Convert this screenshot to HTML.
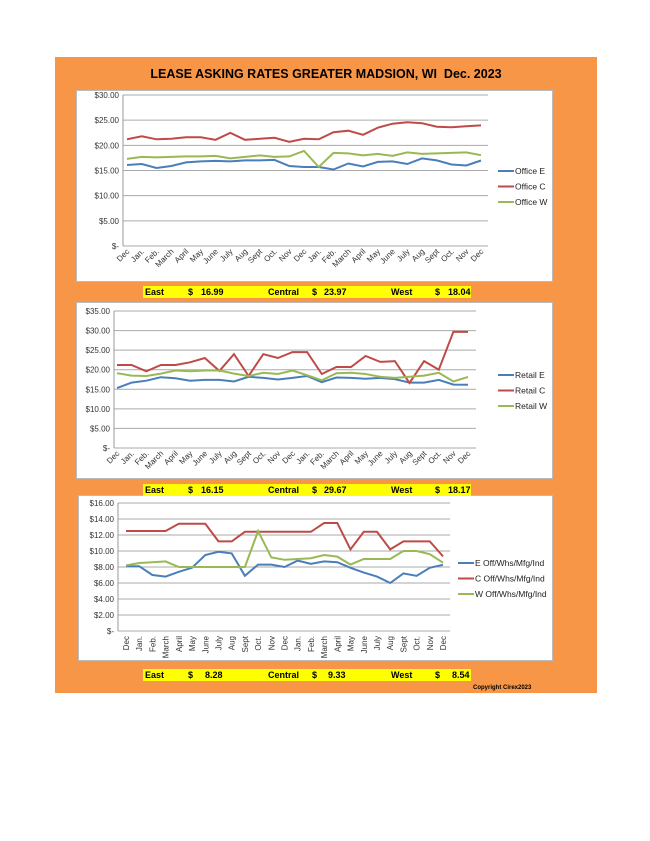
<!DOCTYPE html>
<html><head><meta charset="utf-8"><style>
body{margin:0;background:#fff;width:650px;height:841px;position:relative;font-family:"Liberation Sans",sans-serif;overflow:hidden}
#bg{position:absolute;left:55px;top:57px;width:542px;height:636px;background:#f79646}
.title{position:absolute;left:55px;width:542px;top:67px;text-align:center;font-weight:bold;font-size:12.5px}
.box{position:absolute;background:#fff;border:1px solid #bbb;box-sizing:border-box}
.ybar{position:absolute;left:143px;width:328px;height:12px;background:#ffff00;font-weight:bold;font-size:9px;line-height:12px}
.ybar span{position:absolute;top:0}
svg text{font-family:"Liberation Sans",sans-serif}
</style></head><body>
<div id="bg"></div>
<div class="title">LEASE ASKING RATES GREATER MADSION, WI&nbsp; Dec. 2023</div>
<div class="box" style="left:76px;top:90px;width:477px;height:192px"></div>
<div class="box" style="left:76px;top:302px;width:477px;height:177px"></div>
<div class="box" style="left:78px;top:495px;width:475px;height:166px"></div>
<div class="ybar" style="top:286px"><span style="left:2px">East</span><span style="left:45px">$</span><span style="left:58px">16.99</span><span style="left:125px">Central</span><span style="left:169px">$</span><span style="left:181px">23.97</span><span style="left:248px">West</span><span style="left:292px">$</span><span style="left:305px">18.04</span></div>
<div class="ybar" style="top:484px"><span style="left:2px">East</span><span style="left:45px">$</span><span style="left:58px">16.15</span><span style="left:125px">Central</span><span style="left:169px">$</span><span style="left:181px">29.67</span><span style="left:248px">West</span><span style="left:292px">$</span><span style="left:305px">18.17</span></div>
<div class="ybar" style="top:669px"><span style="left:2px">East</span><span style="left:45px">$</span><span style="left:62px">8.28</span><span style="left:125px">Central</span><span style="left:169px">$</span><span style="left:185px">9.33</span><span style="left:248px">West</span><span style="left:292px">$</span><span style="left:309px">8.54</span></div>
<div style="position:absolute;left:473px;top:685px;font-size:6px;font-weight:bold">Copyright Cirex2023</div>
<svg id="svg" width="650" height="841" style="position:absolute;left:0;top:0"></svg>
<script>
const months=["Dec","Jan.","Feb.","March","April","May","June","July","Aug","Sept","Oct.","Nov","Dec","Jan.","Feb.","March","April","May","June","July","Aug","Sept","Oct.","Nov","Dec"];
const officeE=[16.1,16.3,15.5,15.9,16.6,16.8,16.9,16.8,17.0,17.0,17.1,15.9,15.7,15.7,15.2,16.4,15.8,16.7,16.8,16.3,17.4,17.0,16.2,16.0,16.99];
const officeC=[21.2,21.8,21.2,21.3,21.6,21.6,21.1,22.5,21.1,21.3,21.5,20.7,21.3,21.2,22.6,22.9,22.1,23.5,24.3,24.6,24.4,23.7,23.6,23.8,23.97];
const officeW=[17.3,17.7,17.6,17.7,17.8,17.8,17.9,17.4,17.7,18.0,17.7,17.8,18.9,15.7,18.5,18.4,18.0,18.3,17.9,18.6,18.3,18.4,18.5,18.6,18.04];
const retailE=[15.3,16.7,17.2,18.1,17.8,17.2,17.4,17.4,17.0,18.2,17.9,17.5,17.9,18.4,16.8,18.0,17.9,17.7,17.9,17.6,16.7,16.7,17.4,16.2,16.15];
const retailC=[21.2,21.2,19.6,21.2,21.2,21.9,23.0,19.7,24.0,18.4,24.0,23.0,24.5,24.5,18.9,20.7,20.7,23.5,22.0,22.2,16.6,22.2,20.0,29.7,29.67];
const retailW=[19.1,18.5,18.4,19.0,19.8,19.6,19.8,19.8,19.0,18.4,19.2,18.9,19.8,18.6,17.3,19.1,19.2,18.9,18.2,17.9,18.2,18.5,19.2,17.0,18.17];
const indE=[8.1,8.1,7.0,6.8,7.4,7.9,9.5,9.9,9.7,6.9,8.3,8.3,8.0,8.8,8.4,8.7,8.6,7.9,7.3,6.8,6.0,7.2,6.9,7.9,8.28];
const indC=[12.5,12.5,12.5,12.5,13.4,13.4,13.4,11.2,11.2,12.4,12.4,12.4,12.4,12.4,12.4,13.5,13.5,10.2,12.4,12.4,10.2,11.2,11.2,11.2,9.33];
const indW=[8.2,8.5,8.6,8.7,8.0,8.0,8.0,8.0,8.0,8.0,12.5,9.2,8.9,9.0,9.1,9.5,9.3,8.3,9.0,9.0,9.0,10.0,10.0,9.6,8.54];
const officeTicks=[0,5,10,15,20,25,30];
const retailTicks=[0,5,10,15,20,25,30,35];
const indTicks=[0,2,4,6,8,10,12,14,16];
const colors=["#4a7ebb","#be4b48","#98b954"];
const NS="http://www.w3.org/2000/svg";
const svg=document.getElementById('svg');
function mk(tag,attrs,parent){const e=document.createElementNS(NS,tag);for(const k in attrs)e.setAttribute(k,attrs[k]);(parent||svg).appendChild(e);return e;}
function chart(o){
  const g=mk('g',{});
  
  
  const max=o.ticks[o.ticks.length-1];
  const y=v=>o.y1-(v/max)*(o.y1-o.y0);
  const x=i=>o.px0+i*(o.px1-o.px0)/(months.length-1);
  o.ticks.forEach(t=>{
    const gl=mk('line',{x1:o.ax0,x2:o.ax1,y1:y(t),y2:y(t),stroke:'#aaa','stroke-width':1},g);
    
    
    const lb=mk('text',{x:o.ax0-4,y:y(t)+3,'font-size':8,'text-anchor':'end',fill:'#333'},g);
    lb.textContent=t===0?'$-':'$'+t.toFixed(2);
    
    
  });
  mk('line',{x1:o.ax0,x2:o.ax0,y1:o.y0,y2:o.y1,stroke:'#999'},g);
  months.forEach((m,i)=>{
    const lx=x(i);
    const t=mk('text',{'font-size':8,fill:'#333','text-anchor':'end'},g);
    t.textContent=m;
    if(o.vertical){t.setAttribute('transform',`translate(${lx+3},${o.y1+5}) rotate(-90)`);}
    else{t.setAttribute('transform',`translate(${lx+3},${o.y1+6}) rotate(-45)`);}
    
    
  });
  o.series.forEach((s,k)=>{
    const p=mk('polyline',{points:s.map((v,i)=>x(i).toFixed(1)+','+y(v).toFixed(1)).join(' '),fill:'none',stroke:colors[k],'stroke-width':2},g);
    
    
    const ly=o.legY+k*15.5;
    const ll=mk('line',{x1:o.legX,x2:o.legX+16,y1:ly,y2:ly,stroke:colors[k],'stroke-width':2},g);
    
    
    const lt=mk('text',{x:o.legX+17,y:ly+3,'font-size':8.5,fill:'#222'},g);
    lt.textContent=o.labels[k];
    
    
  });
}
chart({name:'office-chart',ticks:officeTicks,y0:95,y1:246,ax0:123,ax1:488,px0:127,px1:481,series:[officeE,officeC,officeW],labels:['Office E','Office C','Office W'],legX:498,legY:171});
chart({name:'retail-chart',ticks:retailTicks,y0:311,y1:448,ax0:114,ax1:476,px0:117,px1:468,series:[retailE,retailC,retailW],labels:['Retail E','Retail C','Retail W'],legX:498,legY:375});
chart({name:'industrial-chart',ticks:indTicks,y0:503,y1:631,ax0:118,ax1:450,px0:126,px1:443,series:[indE,indC,indW],labels:['E Off/Whs/Mfg/Ind','C Off/Whs/Mfg/Ind','W Off/Whs/Mfg/Ind'],legX:458,legY:563,vertical:true});
</script>
</body></html>
